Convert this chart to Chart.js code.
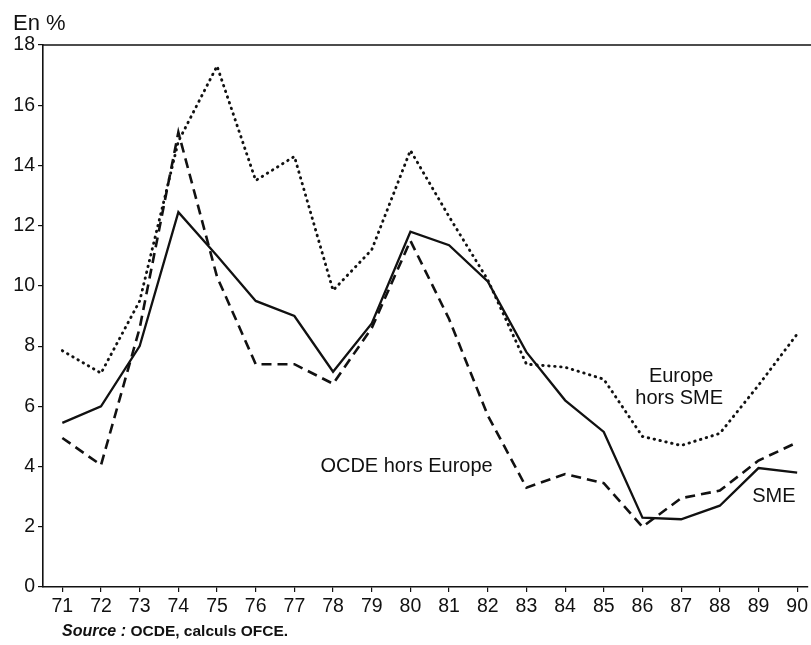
<!DOCTYPE html>
<html>
<head>
<meta charset="utf-8">
<script src="https://cdn.jsdelivr.net/npm/chart.js@4.4.0/dist/chart.umd.min.js"></script>
<style>
  html, body { margin: 0; padding: 0; background: #fff; }
</style>
</head>
<body>
<canvas id="c" width="811" height="645"></canvas>
<script>
// years on the x axis (19xx)
var years = [71, 72, 73, 74, 75, 76, 77, 78, 79, 80, 81, 82, 83, 84, 85, 86, 87, 88, 89, 90];
var yTicks = [0, 2, 4, 6, 8, 10, 12, 14, 16, 18];
// inflation, en %
var sme = [5.45, 6.0, 8.0, 12.45, 11.0, 9.5, 9.0, 7.15, 8.75, 11.8, 11.35, 10.15, 7.8, 6.2, 5.15, 2.3, 2.25, 2.7, 3.95, 3.8];
var europeHorsSme = [7.85, 7.1, 9.5, 14.8, 17.3, 13.5, 14.3, 9.85, 11.2, 14.5, 12.3, 10.2, 7.4, 7.3, 6.9, 5.0, 4.7, 5.1, 6.7, 8.4];
var ocdeHorsEurope = [4.95, 4.05, 8.6, 15.1, 10.3, 7.4, 7.4, 6.75, 8.6, 11.5, 8.9, 5.7, 3.3, 3.75, 3.45, 2.0, 2.95, 3.2, 4.2, 4.8];

var ink = '#111';
var fam = '"Liberation Sans", Arial, Helvetica, sans-serif';

function pts(vals) {
	return years.map(function(y, i){ return {x: y, y: vals[i]}; });
}

// labels written in the plot, placed in data units
var notes = [
	{text: 'OCDE hors Europe', x: 79.9, y: 4.0},
	{text: 'Europe', x: 87.0, y: 6.98},
	{text: 'hors SME', x: 86.95, y: 6.25},
	{text: 'SME', x: 89.4, y: 3.0}
];

var texts = {
	id: 'texts',
	beforeDraw: function(chart){
		var ctx = chart.ctx;
		ctx.save();
		ctx.fillStyle = 'white';
		ctx.fillRect(0, 0, chart.width, chart.height);
		ctx.restore();
	},
	afterDraw: function(chart){
		var ctx = chart.ctx, xs = chart.scales.x, ys = chart.scales.y;
		ctx.save();
		// top frame line
		ctx.strokeStyle = ink;
		ctx.lineWidth = 1.5;
		ctx.beginPath();
		ctx.moveTo(xs.left, ys.top);
		ctx.lineTo(chart.width, ys.top);
		ctx.stroke();

		ctx.fillStyle = ink;
		ctx.textBaseline = 'middle';
		ctx.textAlign = 'left';
		ctx.font = '22px ' + fam;
		ctx.fillText('En %', 13, 24);

		ctx.textAlign = 'center';
		ctx.font = '20px ' + fam;
		notes.forEach(function(n){
			ctx.fillText(n.text, xs.getPixelForValue(n.x), ys.getPixelForValue(n.y));
		});

		ctx.textAlign = 'left';
		ctx.font = 'italic bold 16px ' + fam;
		ctx.fillText('Source :', 62, 632);
		var w = ctx.measureText('Source : ').width;
		ctx.font = 'bold 15.5px ' + fam;
		ctx.fillText('OCDE, calculs OFCE.', 62 + w, 632);
		ctx.restore();
	}
};

var ctx = document.getElementById('c').getContext('2d');
var chart = new Chart(ctx, {
	type: 'line',
	data: {
		datasets: [{
			label: 'SME',
			data: pts(sme),
			borderColor: ink,
			borderWidth: 2.3,
			pointRadius: 0
		}, {
			label: 'Europe hors SME',
			data: pts(europeHorsSme),
			borderColor: ink,
			borderWidth: 2.9,
			borderDash: [0.5, 5.5],
			borderCapStyle: 'round',
			pointRadius: 0
		}, {
			label: 'OCDE hors Europe',
			data: pts(ocdeHorsEurope),
			borderColor: ink,
			borderWidth: 2.6,
			borderDash: [10, 6],
			pointRadius: 0
		}]
	},
	options: {
		responsive: false,
		animation: false,
		layout: {padding: {top: 45, left: 0, right: 0, bottom: 0}},
		plugins: {
			legend: {display: false},
			tooltip: {enabled: false}
		},
		scales: {
			x: {
				type: 'linear',
				min: 70.5,
				max: 90.27,
				afterFit: function(s){ s.height = 58; },
				afterBuildTicks: function(s){ s.ticks = years.map(function(v){ return {value: v}; }); },
				grid: {display: true, drawOnChartArea: false, drawTicks: true, tickLength: 5, color: ink, lineWidth: 1.2},
				border: {display: true, color: ink, width: 1.6},
				ticks: {
					color: ink,
					font: {size: 19.5, family: fam},
					padding: 3,
					maxRotation: 0,
					autoSkip: false,
					callback: function(v){ return String(v); }
				}
			},
			y: {
				min: 0,
				max: 18,
				afterFit: function(s){ s.width = 43; },
				afterBuildTicks: function(s){ s.ticks = yTicks.map(function(v){ return {value: v}; }); },
				grid: {display: true, drawOnChartArea: false, drawTicks: true, tickLength: 5, color: ink, lineWidth: 1.2},
				border: {display: true, color: ink, width: 1.6},
				ticks: {
					color: ink,
					font: {size: 19.5, family: fam},
					padding: 3,
					callback: function(v){ return String(v); }
				}
			}
		}
	},
	plugins: [texts]
});
</script>
</body>
</html>
